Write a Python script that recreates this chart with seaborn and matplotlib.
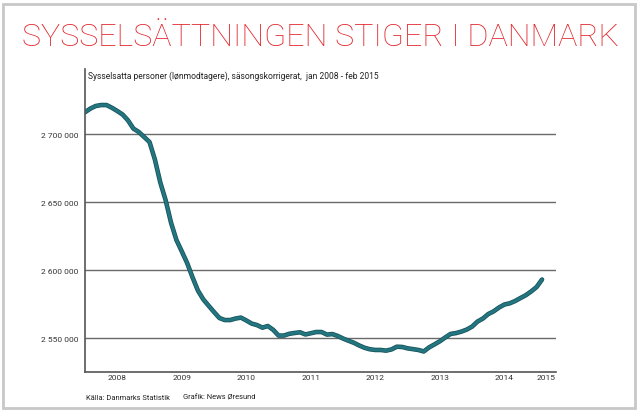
import numpy as np
import pandas as pd
import seaborn as sns
import matplotlib.pyplot as plt
import matplotlib.patheffects as pe
from matplotlib.patches import Rectangle

# monthly wage earners, seasonally adjusted, jan 2008 - feb 2015
employed = [
    2716000, 2718700, 2720600, 2721300, 2721300, 2719300, 2716900, 2714300, 2710000, 2704000, 2701500, 2697800,
    2694100, 2681200, 2664400, 2651300, 2634800, 2622100, 2613700, 2605100, 2594600, 2584900, 2578400, 2573700,
    2569100, 2564700, 2563200, 2563200, 2564300, 2565000, 2562900, 2560600, 2559500, 2557600, 2558800, 2556000,
    2551800, 2551800, 2553100, 2553700, 2554200, 2552600, 2553500, 2554400, 2554400, 2552500, 2552900, 2551500,
    2549600, 2548000, 2546500, 2544500, 2542800, 2541700, 2541200, 2541200, 2540700, 2541600, 2543600, 2543400,
    2542400, 2541800, 2541200, 2540100, 2543100, 2545300, 2547600, 2550400, 2553000, 2553600, 2554700, 2556200,
    2558400, 2562100, 2564300, 2567600, 2569600, 2572400, 2574600, 2575500, 2577200, 2579400, 2581500, 2584300,
    2587500, 2593000,
]
year_labels = ["2008", "2009", "2010", "2011", "2012", "2013", "2014", "2015"]
y_ticks = [2550000, 2600000, 2650000, 2700000]

months = np.arange(len(employed))
df = pd.DataFrame({"t": 2008 + months / 12, "employed": employed})

sns.set_style("white")
plt.rcParams["font.family"] = ["Roboto", "DejaVu Sans"]

fig = plt.figure(figsize=(6.4, 4.14), dpi=100)
ax = fig.add_axes([85 / 640, 1 - 373 / 414, 471 / 640, 303 / 414])

sns.lineplot(data=df, x="t", y="employed", ax=ax, color="#237580", linewidth=2.2,
             path_effects=[pe.Stroke(linewidth=3.3, foreground="#165259"), pe.Normal()])

ax.set_xlim(2008, 2015.3)
ax.set_ylim(2525000, 2747800)

# horizontal grid lines only
ax.set_yticks(y_ticks)
ax.set_yticklabels([f"{v:,}".replace(",", " ") for v in y_ticks], fontsize=6, color="#333333")
for v in y_ticks:
    ax.axhline(v, color="#6a6a6a", linewidth=1.0, zorder=0)
ax.tick_params(axis="y", length=0, pad=5)

# year boundaries as ticks, year names in the middle
ax.set_xticks(np.arange(2009, 2016))
ax.set_xticklabels([])
ax.tick_params(axis="x", which="major", direction="out", length=6, width=1.2, color="#444444")
mids = [y + 0.5 for y in range(2008, 2015)] + [2015.15]
ax.set_xticks(mids, minor=True)
ax.set_xticklabels(year_labels, minor=True, fontsize=6, color="#333333")
ax.tick_params(axis="x", which="minor", length=0, pad=1.5)

ax.set_xlabel("")
ax.set_ylabel("")
for side in ["top", "right"]:
    ax.spines[side].set_visible(False)
for side in ["left", "bottom"]:
    ax.spines[side].set_color("#555555")
    ax.spines[side].set_linewidth(1.2)

title = fig.text(22 / 640, 1 - 37 / 414, "SYSSELSÄTTNINGEN STIGER I DANMARK", ha="left", va="center",
                 fontsize=28, color="#e2252b", fontweight="light")
sub = fig.text(88 / 640, 1 - 76 / 414,
               "Sysselsatta personer (lønmodtagere), säsongskorrigerat,  jan 2008 - feb 2015",
               ha="left", va="center", fontsize=7, color="#222222")
src = fig.text(86 / 640, 1 - 398 / 414, "Källa: Danmarks Statistik", ha="left", va="center",
               fontsize=6.5, color="#222222")
cred = fig.text(183 / 640, 1 - 398 / 414, "Grafik: News Øresund", ha="left", va="center",
                fontsize=6.5, color="#222222")

# scale the text sizes so they take the same width as in the original graphic
renderer = fig.canvas.get_renderer()
for txt, width in [(title, 598), (sub, 292), (src, 83), (cred, 72)]:
    w = txt.get_window_extent(renderer).width
    txt.set_fontsize(txt.get_fontsize() * width / w)

# light grey frame around the whole graphic
fig.patches.append(Rectangle((3 / 640, 5 / 414), 632 / 640, 404 / 414, transform=fig.transFigure,
                             fill=False, edgecolor="#c8c8c8", linewidth=2))

fig.savefig("out.png", dpi=100)
